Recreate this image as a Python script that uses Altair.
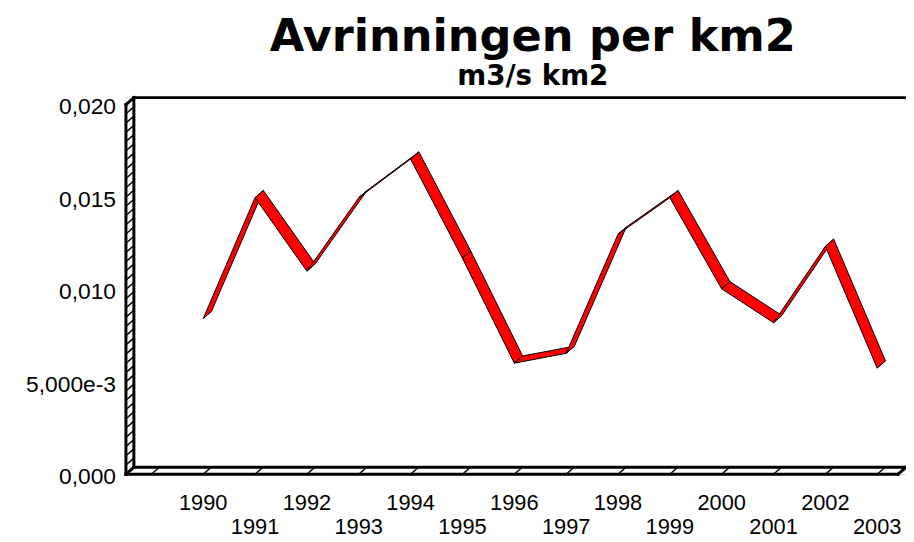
import altair as alt
import pandas as pd

# ---- data ----
years = list(range(1990, 2004))
runoff = [0.00842, 0.01496, 0.01099, 0.01496, 0.01705, 0.01169, 0.00601,
          0.00654, 0.01298, 0.01496, 0.01003, 0.00820, 0.01233, 0.00574]

y_tick_values = [0.000, 0.005, 0.010, 0.015, 0.020]
y_tick_labels = ["0,000", "5,000e-3", "0,010", "0,015", "0,020"]

title_text = "Avrinningen per km2"
subtitle_text = "m3/s km2"

FONT = "Liberation Sans"
TITLE_FONT = "DejaVu Sans"

# ---- scale / 3D geometry (in data units) ----
X_MIN, X_MAX = 1988.51, 2003.555
Y_MIN, Y_MAX = 0.0, 0.02043
Y_TOP = 0.020
DX, DY = 0.16, 0.00039   # depth offset of the pseudo-3D effect

xs = alt.Scale(domain=[X_MIN, X_MAX], nice=False, zero=False)
ys = alt.Scale(domain=[Y_MIN, Y_MAX], nice=False, zero=False)

# ribbon polygons, one per segment
rows = []
for i in range(len(years) - 1):
    x0, y0, x1, y1 = years[i], runoff[i], years[i + 1], runoff[i + 1]
    pts = [(x0, y0), (x1, y1), (x1 + DX, y1 + DY), (x0 + DX, y0 + DY)]
    for k, (px, py) in enumerate(pts):
        rows.append({"seg": i, "k": k, "x": px, "y": py})
ribbon = pd.DataFrame(rows)

FDX, FDY = 0.153, 0.000375  # depth of the frame
# frame (thick outline)
thick = pd.DataFrame([
    {"x": X_MIN, "y": 0, "x2": X_MIN, "y2": Y_TOP},
    {"x": X_MIN + FDX, "y": FDY, "x2": X_MIN + FDX, "y2": Y_TOP + FDY},
    {"x": X_MIN, "y": Y_TOP, "x2": X_MIN + FDX, "y2": Y_TOP + FDY},
    {"x": X_MIN + FDX, "y": Y_TOP + FDY, "x2": X_MAX, "y2": Y_TOP + FDY},
    {"x": X_MIN + FDX, "y": FDY, "x2": X_MAX, "y2": FDY},
    {"x": X_MIN, "y": 0, "x2": X_MAX - FDX, "y2": 0},
    {"x": X_MAX - FDX, "y": 0, "x2": X_MAX, "y2": FDY},
    {"x": X_MIN, "y": 0, "x2": X_MIN + FDX, "y2": FDY},
])

# hatch lines on the side wall and the floor
hatch_rows = []
for k in range(1, 40):
    v = k * 0.0005
    hatch_rows.append({"x": X_MIN, "y": v, "x2": X_MIN + FDX, "y2": v + FDY})
for yr in range(1989, 2004):
    hatch_rows.append({"x": yr, "y": 0, "x2": yr + FDX, "y2": FDY})
hatch = pd.DataFrame(hatch_rows)

X = lambda f: alt.X(f, scale=xs, axis=None)
Y = lambda f: alt.Y(f, scale=ys, axis=None)

frame_thick = alt.Chart(thick).mark_rule(color="black", strokeWidth=3, strokeCap="square").encode(
    x=X("x:Q"), y=Y("y:Q"), x2="x2:Q", y2="y2:Q")
frame_hatch = alt.Chart(hatch).mark_rule(color="black", strokeWidth=1.5).encode(
    x=X("x:Q"), y=Y("y:Q"), x2="x2:Q", y2="y2:Q")

ribbon_chart = alt.Chart(ribbon).mark_line(
    interpolate="linear-closed", filled=True, fill="#ff0000", stroke="black",
    strokeWidth=1, strokeJoin="miter"
).encode(x=X("x:Q"), y=Y("y:Q"), detail="seg:N", order="k:Q")

ylab = pd.DataFrame({"v": y_tick_values, "label": y_tick_labels})
ylab_chart = alt.Chart(ylab).mark_text(
    align="right", baseline="middle", fontSize=23, font=FONT, color="black", dy=3
).encode(x=alt.value(-10), y=Y("v:Q"), text="label:N")

xlab = pd.DataFrame({"year": years, "label": [str(y) for y in years]})
xlab_even = alt.Chart(xlab).transform_filter("datum.year % 2 == 0").mark_text(
    align="center", baseline="middle", fontSize=22, font=FONT, color="black"
).encode(x=X("year:Q"), y=alt.value(410), text="label:N")
xlab_odd = alt.Chart(xlab).transform_filter("datum.year % 2 == 1").mark_text(
    align="center", baseline="middle", fontSize=22, font=FONT, color="black"
).encode(x=X("year:Q"), y=alt.value(434), text="label:N")

chart = alt.layer(
    frame_hatch, frame_thick, ribbon_chart, ylab_chart, xlab_even, xlab_odd
).properties(
    width=787, height=381,
    autosize=alt.AutoSizeParams(type="none"),
    padding={"left": 119, "top": 87, "right": 0, "bottom": 70},
    title=alt.TitleParams(
        text=title_text, subtitle=subtitle_text, anchor="middle", dx=17,
        font=TITLE_FONT, fontSize=45, fontWeight="bold", color="black",
        subtitleFont=TITLE_FONT, subtitleFontSize=28, subtitleFontWeight="bold",
        subtitleColor="black", subtitlePadding=3, offset=5,
    ),
).configure_view(strokeWidth=0).configure(background="white")

chart.save("out.html", embed_options={"renderer": "svg", "actions": False})
